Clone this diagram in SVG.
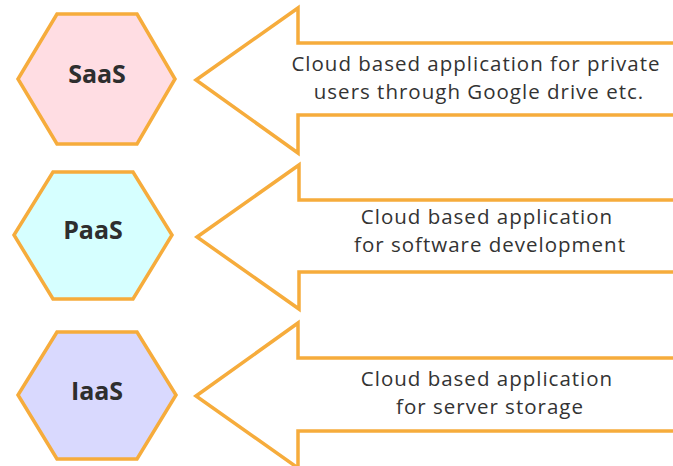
<svg xmlns="http://www.w3.org/2000/svg" width="673" height="466" viewBox="0 0 673 466">
  <style>
    .hex { stroke: #F6AC3C; stroke-width: 3.5; stroke-linejoin: miter; }
    .arrow { fill: #FFFFFF; stroke: #F6AC3C; stroke-width: 3.5; stroke-linejoin: miter; }
    .title { font-family: "Open Sans", "Liberation Sans", sans-serif; font-weight: bold; font-size: 25px; fill: #2E2E2E; text-anchor: middle; }
    .desc { font-family: "Open Sans", "Liberation Sans", sans-serif; font-size: 20.5px; letter-spacing: 1px; fill: #333333; text-anchor: middle; }
  </style>
  <rect width="673" height="466" fill="#FFFFFF"/>

  <!-- pointing arrows carrying the descriptions -->
  <g id="connectors">
    <polygon class="arrow" points="196,80 298,8 298,43 680,43 680,115 298,115 298,153"/>
    <polygon class="arrow" points="197,237 299,165 299,200 680,200 680,272 299,272 299,309"/>
    <polygon class="arrow" points="196,396 298,323 298,358 680,358 680,431 298,431 298,468"/>
  </g>

  <g id="saas">
    <polygon class="hex" fill="#FFDDE3" points="57,14 137,14 175,79 137,144 57,144 18,79"/>
    <text class="title" x="97" y="83">SaaS</text>
  </g>
  <g id="paas">
    <polygon class="hex" fill="#D6FFFF" points="53,172 133,172 172,235 133,299 53,299 14,235"/>
    <text class="title" x="93" y="239">PaaS</text>
  </g>
  <g id="iaas">
    <polygon class="hex" fill="#D9D9FE" points="57,332 137,332 176,395 137,459 57,459 18,395"/>
    <text class="title" x="97" y="400">IaaS</text>
  </g>

  <g id="saas-desc">
    <text class="desc" x="476" y="71">Cloud based application for private</text>
    <text class="desc" x="479" y="99">users through Google drive etc.</text>
  </g>
  <g id="paas-desc">
    <text class="desc" x="487" y="224">Cloud based application</text>
    <text class="desc" x="490" y="252">for software development</text>
  </g>
  <g id="iaas-desc">
    <text class="desc" x="487" y="386">Cloud based application</text>
    <text class="desc" x="490" y="414">for server storage</text>
  </g>
</svg>
